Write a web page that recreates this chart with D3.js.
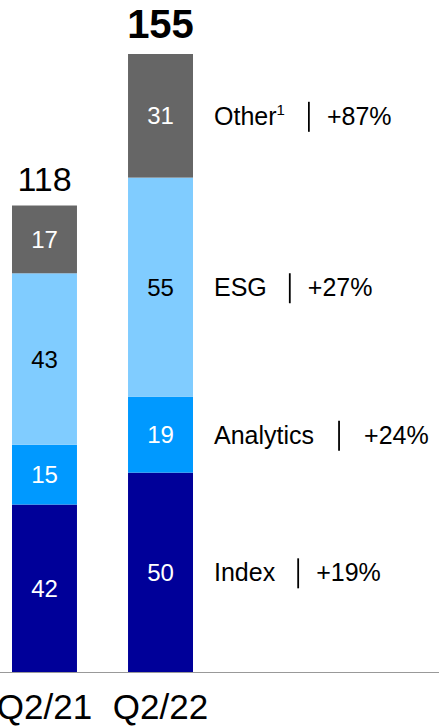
<!DOCTYPE html>
<html>
<head>
<meta charset="utf-8">
<script src="https://cdn.jsdelivr.net/npm/d3@7"></script>
<style>
  body { margin: 0; background: #fff; }
  svg { display: block; font-family: "Liberation Sans", Arial, sans-serif; }
</style>
</head>
<body>
<div id="chart"></div>
<script>
// chart data
var quarters = ["Q2/21", "Q2/22"];
var segments = ["Index", "Analytics", "ESG", "Other"];
var indexVals = [42, 50];
var analyticsVals = [15, 19];
var esgVals = [43, 55];
var otherVals = [17, 31];
var totals = [118, 155];
var growth = ["+19%", "+24%", "+27%", "+87%"];

var colors = {Index: "#000099", Analytics: "#0099ff", ESG: "#80ccff", Other: "#666666"};
var labelColors = {Index: "#fff", Analytics: "#fff", ESG: "#000", Other: "#fff"};

var width = 439, height = 726;

var svg = d3.select("#chart").append("svg")
    .attr("width", width)
    .attr("height", height);

// build rows for stacking
var rows = quarters.map(function(q, i) {
    return {quarter: q, Index: indexVals[i], Analytics: analyticsVals[i], ESG: esgVals[i], Other: otherVals[i], total: totals[i]};
});

var stack = d3.stack().keys(segments);
var series = stack(rows);

var x = d3.scaleBand()
    .domain(quarters)
    .range([12, 193])
    .paddingInner(0.44)
    .paddingOuter(0);

var y = d3.scaleLinear()
    .domain([0, 155])
    .range([672, 54]);

// bars
var layers = svg.selectAll(".layer")
    .data(series)
    .enter()
    .append("g")
    .attr("class", "layer")
    .attr("fill", function(d) { return colors[d.key]; });

layers.selectAll("rect")
    .data(function(d) { return d; })
    .enter()
    .append("rect")
    .attr("x", function(d) { return x(d.data.quarter); })
    .attr("y", function(d) { return y(d[1]); })
    .attr("width", x.bandwidth())
    .attr("height", function(d) { return y(d[0]) - y(d[1]); });

// segment value labels
layers.each(function(s) {
    d3.select(this).selectAll("text")
        .data(s)
        .enter()
        .append("text")
        .attr("x", function(d) { return x(d.data.quarter) + x.bandwidth() / 2; })
        .attr("y", function(d) { return (y(d[0]) + y(d[1])) / 2; })
        .attr("dy", "0.36em")
        .attr("text-anchor", "middle")
        .attr("font-size", "24px")
        .attr("fill", labelColors[s.key])
        .text(function(d) { return d[1] - d[0]; });
});

// totals above bars
svg.selectAll(".total")
    .data(rows)
    .enter()
    .append("text")
    .attr("class", "total")
    .attr("x", function(d) { return x(d.quarter) + x.bandwidth() / 2; })
    .attr("y", function(d, i) { return y(d3.sum(segments, function(k) { return d[k]; })) - (i == 1 ? 16 : 15); })
    .attr("text-anchor", "middle")
    .attr("font-size", function(d, i) { return i == 1 ? "40px" : "34px"; })
    .attr("font-weight", function(d, i) { return i == 1 ? "bold" : "normal"; })
    .attr("fill", "#000")
    .text(function(d) { return d.total; });

// baseline
svg.append("line")
    .attr("x1", 0)
    .attr("x2", width)
    .attr("y1", y(0) + 0.5)
    .attr("y2", y(0) + 0.5)
    .attr("stroke", "#999")
    .attr("stroke-width", 1);

// x axis labels
var xAxis = d3.axisBottom(x).tickSize(0).tickPadding(0);
var axisG = svg.append("g")
    .attr("transform", "translate(0," + y(0) + ")")
    .call(xAxis);
axisG.select(".domain").remove();
axisG.selectAll("text")
    .attr("dy", null)
    .attr("y", 47)
    .attr("font-size", "35px")
    .attr("font-family", "Liberation Sans, Arial, sans-serif")
    .attr("fill", "#000");

// growth annotations, aligned to the latest quarter segments
var gaps = [23, 25, 23, 24];
var pgaps = [18, 25, 18, 18];
series.forEach(function(s, i) {
    var d = s[s.length - 1];
    var cy = (y(d[0]) + y(d[1])) / 2;
    var g = svg.append("g");
    var t = g.append("text")
        .attr("x", 214)
        .attr("y", cy)
        .attr("dy", "0.36em")
        .attr("font-size", "25px")
        .attr("fill", "#000");
    t.append("tspan").text(s.key);
    if (s.key == "Other") {
        t.append("tspan")
            .attr("font-size", "15px")
            .attr("dy", "-10")
            .text("1");
    }
    var endX = 214 + t.node().getComputedTextLength();
    var sepX = endX + gaps[i];
    g.append("line")
        .attr("x1", sepX)
        .attr("x2", sepX)
        .attr("y1", cy - 14)
        .attr("y2", cy + 16)
        .attr("stroke", "#000")
        .attr("stroke-width", 1.8);
    g.append("text")
        .attr("x", sepX + pgaps[i])
        .attr("y", cy)
        .attr("dy", "0.36em")
        .attr("font-size", "25px")
        .attr("fill", "#000")
        .text(growth[i]);
});
</script>
</body>
</html>
